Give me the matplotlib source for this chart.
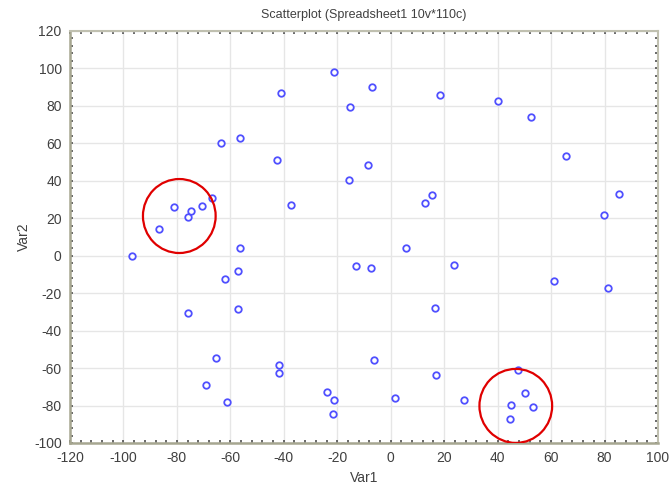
import numpy as np
import matplotlib.pyplot as plt
from matplotlib.patches import Ellipse
from matplotlib.ticker import MultipleLocator

plt.rcParams['font.family'] = ['Liberation Sans', 'DejaVu Sans']
plt.rcParams['axes.unicode_minus'] = False

var1 = [-96.7, -86.6, -81.0, -75.9, -74.9, -70.7, -66.9, -63.6, -56.5, -56.5,
        -57.0, -62.1, -57.0, -75.7, -65.5, -69.0, -61.1, -41.9, -41.9, -42.6,
        -41.1, -37.3, -21.1, -15.1, -6.9, -15.6, -8.4, -12.9, -7.5, -6.1,
        -23.9, -21.3, -21.7, 1.5, 5.6, 12.8, 15.4, 18.3, 16.7, 16.9,
        23.7, 27.5, 40.2, 52.6, 65.6, 61.0, 79.9, 85.4, 81.2, 47.6,
        50.1, 44.9, 53.2, 44.6]
var2 = [-0.3, 14.1, 26.2, 20.5, 24.1, 26.6, 30.8, 60.0, 62.9, 4.0,
        -8.1, -12.6, -28.4, -30.6, -54.4, -68.8, -78.1, -58.5, -62.8, 51.1,
        86.7, 27.1, 98.0, 79.4, 90.3, 40.3, 48.3, -5.3, -6.4, -55.8,
        -72.6, -77.2, -84.3, -76.1, 4.0, 28.0, 32.6, 85.8, -28.0, -63.5,
        -4.9, -77.2, 82.6, 74.1, 53.4, -13.5, 21.8, 33.1, -17.4, -61.0,
        -73.1, -79.7, -80.6, -87.3]

# highlighted groups (centre x, centre y)
circle_x = [-79.1, 46.8]
circle_y = [21.2, -80.2]

fig = plt.figure(figsize=(6.71, 4.92), dpi=100)
ax = fig.add_axes([0.1043, 0.0996, 0.8763, 0.8374])

ax.scatter(var1, var2, s=22, facecolors='white', edgecolors='#5050ff',
           linewidths=1.3, zorder=3)

for cx, cy in zip(circle_x, circle_y):
    ax.add_patch(Ellipse((cx, cy), 27.2, 39.5, fill=False,
                         edgecolor='#e00000', linewidth=1.6, zorder=4))

ax.set_xlim(-120, 100)
ax.set_ylim(-100, 120)
ax.xaxis.set_major_locator(MultipleLocator(20))
ax.yaxis.set_major_locator(MultipleLocator(20))
ax.xaxis.set_minor_locator(MultipleLocator(4))
ax.yaxis.set_minor_locator(MultipleLocator(4))
ax.grid(True, which='major', color='#e6e6e6', linewidth=1.0, zorder=0)
ax.set_axisbelow(True)

ax.tick_params(which='both', direction='in', top=True, right=True,
               length=2, width=1.1, color='#404040', labelsize=10,
               labelcolor='#404040', pad=6)
ax.tick_params(labeltop=False, labelright=False)

for side in ['left', 'bottom']:
    ax.spines[side].set_color('#a6a690')
    ax.spines[side].set_linewidth(1.8)
for side in ['top', 'right']:
    ax.spines[side].set_color('#c0c0b0')
    ax.spines[side].set_linewidth(1.5)

ax.set_title('Scatterplot (Spreadsheet1 10v*110c)', fontsize=9,
             color='#404040', pad=9)
ax.set_xlabel('Var1', fontsize=10, color='#404040', labelpad=4)
ax.set_ylabel('Var2', fontsize=10, color='#404040', labelpad=2)

fig.savefig('out.png', dpi=100)
